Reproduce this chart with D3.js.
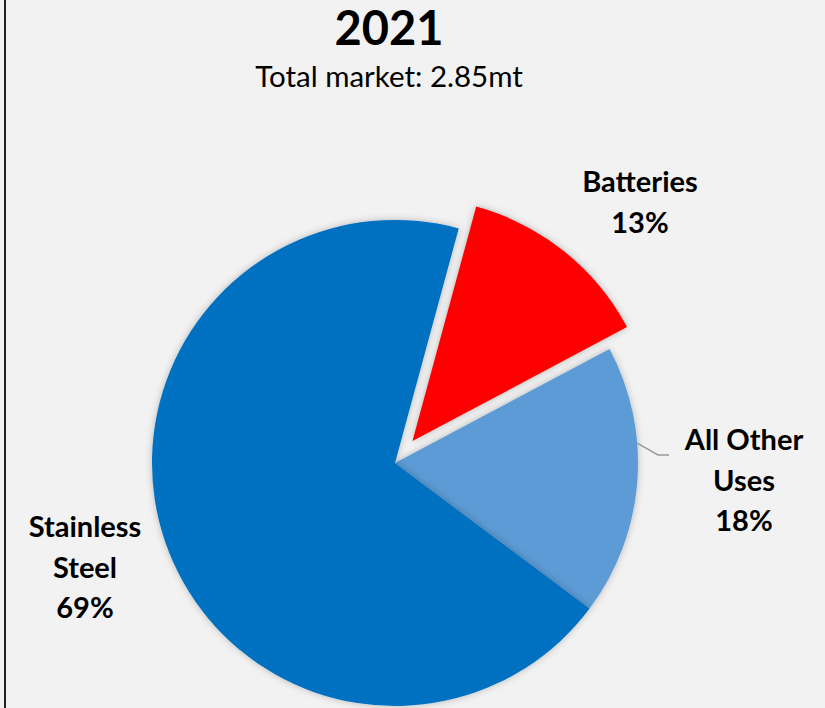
<!DOCTYPE html>
<html>
<head>
<meta charset="utf-8">
<script src="https://cdn.jsdelivr.net/npm/d3@7"></script>
<style>
  html, body { margin: 0; padding: 0; background: #f2f2f2; }
  svg { display: block; font-family: Lato, "Open Sans", sans-serif; }
</style>
</head>
<body>
<div id="chart"></div>
<script>
// nickel end-use, 2021
var categories = ["Batteries", "All Other Uses", "Stainless Steel"];
var shares = [13, 18, 69];
var labelLines = [["Batteries"], ["All Other", "Uses"], ["Stainless", "Steel"]];
var title = "2021";
var subtitle = "Total market: 2.85mt";

var width = 825, height = 708;
var cx = 395, cy = 463, radius = 243;
var colors = ["#ff0000", "#5b9bd5", "#0070c0"];
var explode = [28, 0, 0];
// label anchor (centre x, first baseline y) for each slice
var labelAt = [[640, 192], [744, 450], [85, 537]];

var svg = d3.select("#chart")
    .append("svg")
    .attr("width", width)
    .attr("height", height);

svg.append("rect")
    .attr("width", width)
    .attr("height", height)
    .style("fill", "#f2f2f2");

svg.append("line")
    .attr("x1", 5).attr("x2", 5)
    .attr("y1", 0).attr("y2", height)
    .style("stroke", "#222")
    .style("stroke-width", 2);

var defs = svg.append("defs");
var glow = defs.append("filter")
    .attr("id", "glow")
    .attr("x", "-20%").attr("y", "-20%")
    .attr("width", "140%").attr("height", "140%");
glow.append("feDropShadow")
    .attr("dx", 0).attr("dy", 0)
    .attr("stdDeviation", 3.5)
    .attr("flood-color", "#000")
    .attr("flood-opacity", 0.25);

var startDeg = 15.2;
var pie = d3.pie()
    .sort(null)
    .startAngle(startDeg * Math.PI / 180)
    .endAngle((startDeg + 360) * Math.PI / 180)
    .value(function (d) { return d; });

var arc = d3.arc()
    .innerRadius(0)
    .outerRadius(radius);

var arcs = pie(shares);

var g = svg.append("g")
    .attr("transform", "translate(" + cx + "," + cy + ")");

g.selectAll("path")
    .data(arcs)
    .enter()
    .append("path")
    .attr("d", arc)
    .attr("transform", function (d, i) {
        var mid = (d.startAngle + d.endAngle) / 2;
        return "translate(" + (Math.sin(mid) * explode[i]) + "," + (-Math.cos(mid) * explode[i]) + ")";
    })
    .style("fill", function (d, i) { return colors[i]; })
    .attr("filter", "url(#glow)");

// leader line for "All Other Uses"
var other = arcs[1];
var a0 = other.startAngle + (other.endAngle - other.startAngle) * 0.36;
var p0 = [cx + Math.sin(a0) * radius, cy - Math.cos(a0) * radius];
svg.append("polyline")
    .attr("points", [p0, [658, 455], [669, 455]].map(function (p) { return p.join(","); }).join(" "))
    .style("fill", "none")
    .style("stroke", "#999")
    .style("stroke-width", 1.5);

// title
svg.append("text")
    .attr("x", 389)
    .attr("y", 45)
    .attr("text-anchor", "middle")
    .attr("font-size", 47)
    .attr("font-weight", "bold")
    .attr("fill", "#000")
    .text(title);

svg.append("text")
    .attr("x", 389)
    .attr("y", 87)
    .attr("text-anchor", "middle")
    .attr("font-size", 29.5)
    .attr("fill", "#000")
    .text(subtitle);

// slice labels
for (var i = 0; i < categories.length; i++) {
    var t = svg.append("text")
        .attr("text-anchor", "middle")
        .attr("font-size", 29)
        .attr("font-weight", "bold")
        .attr("fill", "#000");
    var lines = labelLines[i].concat([shares[i] + "%"]);
    for (var j = 0; j < lines.length; j++) {
        t.append("tspan")
            .attr("x", labelAt[i][0])
            .attr("y", labelAt[i][1] + j * 40.5)
            .text(lines[j]);
    }
}
</script>
</body>
</html>
